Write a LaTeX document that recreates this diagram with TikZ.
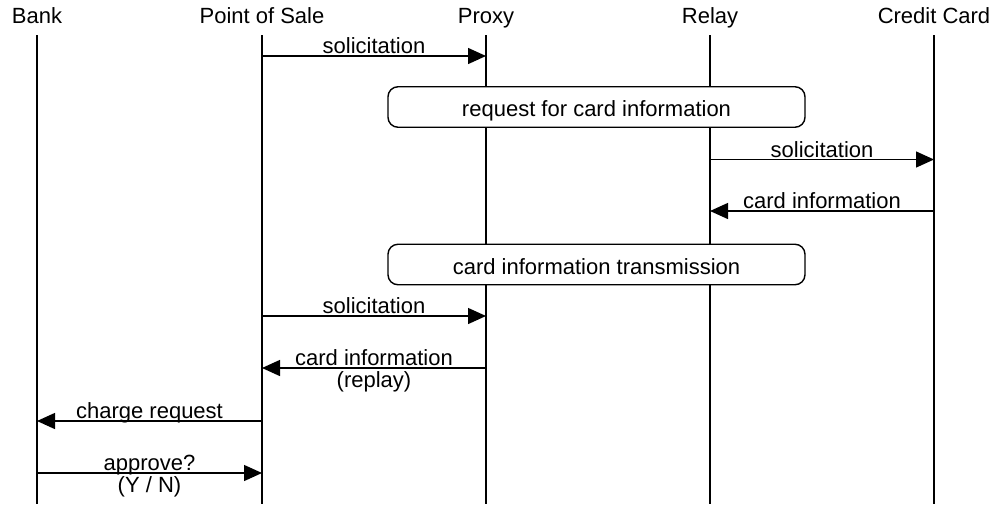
\documentclass[tikz,border=0pt]{standalone}
\usepackage{fontspec}
\setmainfont{Liberation Sans}
\usetikzlibrary{arrows.meta}
\begin{document}
\begin{tikzpicture}[x=1pt,y=-1pt,
  every node/.style={font=\fontsize{22}{26}\selectfont, inner sep=0pt},
  actor/.style={anchor=base},
  life/.style={line width=1.4pt},
  msg/.style={line width=1.4pt, -{Triangle[length=18pt,width=16pt]}},
  lbl/.style={anchor=base, yshift=2.5pt},
  lbltwo/.style={anchor=base, yshift=-19pt},
  phase/.style={draw, fill=white, line width=1.4pt, rounded corners=10pt,
    minimum width=417pt, minimum height=40.5pt, text height=21pt, text depth=2pt}]
\useasboundingbox (0,0) rectangle (995,504);

% participants
\node[actor] (bank)  at (37,23)  {Bank};
\node[actor] (pos)   at (262,23) {Point of Sale};
\node[actor] (proxy) at (486,23) {Proxy};
\node[actor] (relay) at (710,23) {Relay};
\node[actor] (card)  at (934,23) {Credit Card};

% lifelines
\foreach \p/\x in {bank/37,pos/262,proxy/486,relay/710,card/934}{
  \coordinate (\p top) at (\x,35);
  \coordinate (\p bot) at (\x,504);
  \draw[life] (\p top) -- (\p bot);
}

% phase boxes
\node[phase] (reqbox)  at (596.5,107)   {request for card information};
\node[phase] (sendbox) at (596.5,264.5) {card information transmission};

% messages
\draw[msg] (postop |- 0,56) -- (proxytop |- 0,56)
  node[lbl, midway] (m1) {solicitation};
\draw[msg] (relaytop |- 0,159.5) -- (cardtop |- 0,159.5)
  node[lbl, midway] (m2) {solicitation};
\draw[msg] (cardtop |- 0,211) -- (relaytop |- 0,211)
  node[lbl, midway] (m3) {card information};
\draw[msg] (postop |- 0,316) -- (proxytop |- 0,316)
  node[lbl, midway] (m4) {solicitation};
\draw[msg] (proxytop |- 0,368) -- (postop |- 0,368)
  node[lbl, midway] (m5) {card information}
  node[lbltwo, midway] (m5b) {(replay)};
\draw[msg] (postop |- 0,421) -- (banktop |- 0,421)
  node[lbl, midway] (m6) {charge request};
\draw[msg] (banktop |- 0,473) -- (postop |- 0,473)
  node[lbl, midway] (m7) {approve?}
  node[lbltwo, midway] (m7b) {(Y / N)};
\end{tikzpicture}
\end{document}
